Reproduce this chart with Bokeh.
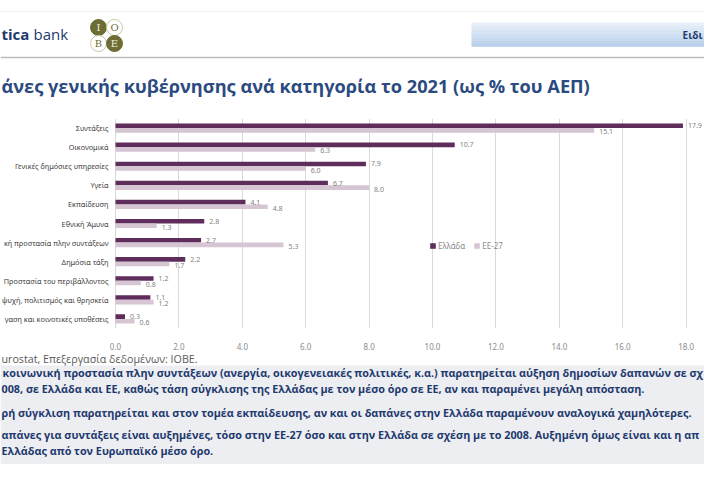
from bokeh.plotting import figure
from bokeh.layouts import column
from bokeh.models import (ColumnDataSource, FactorRange, Range1d, FixedTicker,
                          Legend, LegendItem, NumeralTickFormatter)
from bokeh.transform import dodge
from bokeh.core.properties import value
from bokeh.embed import file_html
from bokeh.resources import INLINE

# ---------------- data ----------------
categories = ["Συντάξεις", "Οικονομικά", "Γενικές δημόσιες υπηρεσίες", "Υγεία",
              "Εκπαίδευση", "Εθνική Άμυνα", "κή προστασία πλην συντάξεων",
              "Δημόσια τάξη", "Προστασία του περιβάλλοντος",
              "ψυχή, πολιτισμός και θρησκεία", "γαση και κοινοτικές υποθέσεις"]
greece = [17.9, 10.7, 7.9, 6.7, 4.1, 2.8, 2.7, 2.2, 1.2, 1.1, 0.3]
eu27 = [15.1, 6.3, 6.0, 8.0, 4.8, 1.3, 5.3, 1.7, 0.8, 1.2, 0.6]
x_ticks = [0, 2, 4, 6, 8, 10, 12, 14, 16, 18]
series_names = ["Ελλάδα", "ΕΕ-27"]

title_text = "άνες γενικής κυβέρνησης ανά κατηγορία το 2021 (ως % του ΑΕΠ)"
source_text = "urostat, Επεξεργασία δεδομένων: ΙΟΒΕ."
notes = [
    "κοινωνική προστασία πλην συντάξεων (ανεργία, οικογενειακές πολιτικές, κ.α.) παρατηρείται αύξηση δημοσίων δαπανών σε σχ",
    "008, σε Ελλάδα και ΕΕ, καθώς τάση σύγκλισης της Ελλάδας με τον μέσο όρο σε ΕΕ, αν και παραμένει μεγάλη απόσταση.",
    "ρή σύγκλιση παρατηρείται και στον τομέα εκπαίδευσης, αν και οι δαπάνες στην Ελλάδα παραμένουν αναλογικά χαμηλότερες.",
    "απάνες για συντάξεις είναι αυξημένες, τόσο στην ΕΕ-27 όσο και στην Ελλάδα σε σχέση με το 2008. Αυξημένη όμως είναι και η απ",
    "Ελλάδας από τον Ευρωπαϊκό μέσο όρο.",
]

W = 704
DARK = "#5f2d5b"
LIGHT = "#d6c5d2"
NAVY = "#1f3a6e"
TITLE_BLUE = "#2b4a80"
GREY_TXT = "#7f7f7f"


def blank_fig(h):
    f = figure(width=W, height=h, x_range=Range1d(0, W), y_range=Range1d(h, 0),
               output_backend="svg", toolbar_location=None,
               x_axis_location=None, y_axis_location=None,
               min_border=0, outline_line_color=None)
    f.xgrid.visible = False
    f.ygrid.visible = False
    return f


# ---------------- header ----------------
HH = 104
head = blank_fig(HH)
head.segment(x0=[0], y0=[11], x1=[W], y1=[11], line_color="#eeeeee", line_width=1)
head.segment(x0=[0], y0=[57], x1=[W], y1=[57], line_color="#bdbdbd", line_width=1.5)
# gradient header bar
n = 12
top, bot = 22.0, 46.0
c0 = (232, 240, 249)
c1 = (182, 206, 234)
for i in range(n):
    t = i / (n - 1)
    c = "#%02x%02x%02x" % tuple(int(c0[k] + (c1[k] - c0[k]) * t) for k in range(3))
    y0 = top + (bot - top) * i / n
    y1 = top + (bot - top) * (i + 1) / n
    head.quad(left=[471], right=[W], top=[y0], bottom=[y1 + 0.3], fill_color=c, line_color=None)
head.text(x=[702], y=[34], text=["Ειδι"], text_font=value("Open Sans"), text_font_style="bold",
          text_font_size="10px", text_color=NAVY, text_baseline="middle", text_align="right")
# bank logo text
head.text(x=[1], y=[33], text=["tica"], text_font=value("Open Sans"), text_font_style="bold",
          text_font_size="15px", text_color=NAVY, text_baseline="middle")
head.text(x=[33], y=[33], text=["bank"], text_font=value("Open Sans"),
          text_font_size="15px", text_color=NAVY, text_baseline="middle")
# IOBE logo
OLIVE = "#6d6d34"
head.circle(x=[98, 114, 98, 114], y=[27, 27, 43, 43], radius=8,
            fill_color=[OLIVE, "white", "white", OLIVE],
            line_color=[OLIVE, "#c9c9a6", "#c9c9a6", OLIVE], line_width=1)
head.text(x=[98, 114, 98, 114], y=[27, 27, 43, 43], text=["I", "O", "B", "E"],
          text_font=value("DejaVu Serif"), text_font_size="10px",
          text_color=["#f0f0e0", OLIVE, OLIVE, "#f0f0e0"],
          text_align="center", text_baseline="middle")
# title
head.text(x=[1], y=[85], text=[title_text], text_font=value("Open Sans"), text_font_style="bold",
          text_font_size="18.2px", text_color=TITLE_BLUE, text_baseline="middle")

# ---------------- chart ----------------
src = ColumnDataSource(dict(
    cat=categories, gr=greece, eu=eu27,
    gr_lbl=["%.1f" % v for v in greece], eu_lbl=["%.1f" % v for v in eu27],
))
chart = figure(width=W, height=248, y_range=FactorRange(factors=categories[::-1]),
               x_range=Range1d(-3.628, 18.58), output_backend="svg",
               toolbar_location=None, y_axis_location=None,
               min_border_left=0, min_border_right=0, min_border_top=14, min_border_bottom=24,
               outline_line_color=None)
chart.ygrid.visible = False
chart.xgrid.ticker = FixedTicker(ticks=x_ticks)
chart.xgrid.grid_line_color = "#d9d9d9"
chart.xaxis.ticker = FixedTicker(ticks=x_ticks)
chart.xaxis.formatter = NumeralTickFormatter(format="0.0")
chart.xaxis.axis_line_color = None
chart.xaxis.major_tick_line_color = None
chart.xaxis.minor_tick_line_color = None
chart.xaxis.major_label_text_font = "Noto Sans"
chart.xaxis.major_label_text_font_size = "8px"
chart.xaxis.major_label_text_color = "#8c8c8c"
chart.xaxis.major_label_standoff = 8

r_gr = chart.hbar(y=dodge("cat", 0.12, range=chart.y_range), left=0, right="gr", height=0.24,
                  source=src, fill_color=DARK, line_color=None)
r_eu = chart.hbar(y=dodge("cat", -0.12, range=chart.y_range), left=0, right="eu", height=0.24,
                  source=src, fill_color=LIGHT, line_color=None)
chart.text(x="gr", y=dodge("cat", 0.12, range=chart.y_range), text="gr_lbl", source=src,
           x_offset=5, text_font=value("Noto Sans"), text_font_size="7px",
           text_color=GREY_TXT, text_baseline="middle")
chart.text(x="eu", y=dodge("cat", -0.2, range=chart.y_range), text="eu_lbl", source=src,
           x_offset=5, text_font=value("Noto Sans"), text_font_size="7px",
           text_color=GREY_TXT, text_baseline="middle")
chart.text(x=-0.22, y="cat", text="cat", source=src, text_align="right", text_baseline="middle",
           text_font=value("Noto Sans"), text_font_size="7.3px", text_color="#404040")

legend = Legend(items=[LegendItem(label=series_names[0], renderers=[r_gr]),
                       LegendItem(label=series_names[1], renderers=[r_eu])],
                orientation="horizontal", location=(429, 77),
                background_fill_alpha=0, border_line_color=None,
                padding=0, margin=0, spacing=8, glyph_width=7, glyph_height=7,
                label_standoff=2, label_text_font="Noto Sans",
                label_text_font_size="8px", label_text_color="#8c8c8c",
                label_height=8)
chart.add_layout(legend)

# ---------------- footer ----------------
FH = 112
foot = blank_fig(FH)
foot.quad(left=[0], right=[W], top=[13], bottom=[FH], fill_color="#edeef2", line_color=None)
foot.text(x=[1], y=[6], text=[source_text], text_font=value("Open Sans"),
          text_font_size="10.7px", text_color="#595959", text_baseline="middle")
note_x = [2, 1, 1, 1, 1]
note_y = [20, 36, 60, 82, 98]
foot.text(x=note_x, y=note_y, text=notes, text_font=value("Open Sans"), text_font_style="bold",
          text_font_size="10.8px", text_color=NAVY, text_baseline="middle")

layout = column(head, chart, foot, spacing=0)
open("out.html", "w").write(file_html(layout, INLINE))
